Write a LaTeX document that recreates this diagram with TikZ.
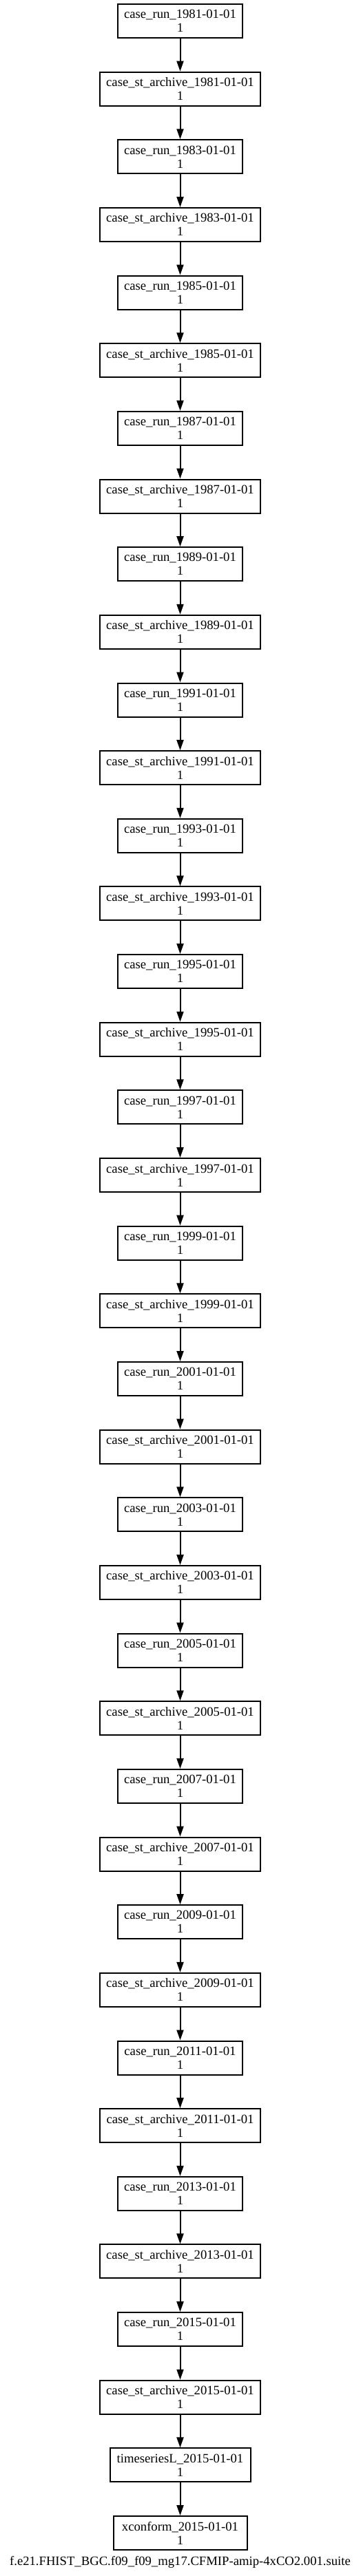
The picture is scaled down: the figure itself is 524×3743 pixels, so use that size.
\documentclass[tikz,border=0pt]{standalone}
\usepackage{fontspec}
\setmainfont{Liberation Serif}
\usetikzlibrary{arrows.meta}
\begin{document}
\begin{tikzpicture}[x=1pt,y=1pt,
  box/.style={draw,line width=2pt,rectangle,minimum height=49pt,inner sep=0pt,align=center,font=\fontsize{18.67}{20}\selectfont},
  runbox/.style={box,minimum width=181pt},
  archbox/.style={box,minimum width=233pt},
  tsbox/.style={box,minimum width=204pt},
  xcbox/.style={box,minimum width=194pt},
  edge/.style={line width=2pt,-{Triangle[length=15pt,width=10pt]}},
  caption/.style={font=\fontsize{18.67}{20}\selectfont,inner sep=0pt,anchor=base}]
\useasboundingbox (0,0) rectangle (524,-3743);
\foreach \yr [count=\i from 0] in {1981,1983,...,2015}{
  \node[runbox] (r\yr) at (261.5,{-(30.5+98.65*2*\i)}) {case\_run\_\yr-01-01\\1};
  \node[archbox] (a\yr) at (261.5,{-(30.5+98.65*(2*\i+1))}) {case\_st\_archive\_\yr-01-01\\1};
}
\node[tsbox] (ts) at (261.5,{-(30.5+98.65*36)}) {timeseriesL\_2015-01-01\\1};
\node[xcbox] (xc) at (261.5,{-(30.5+98.65*37)}) {xconform\_2015-01-01\\1};
\node[caption] (cap) at (261.5,-3727.5) {f.e21.FHIST\_BGC.f09\_f09\_mg17.CFMIP-amip-4xCO2.001.suite};
\foreach \yr in {1981,1983,...,2015}{
  \draw[edge] (r\yr) -- (a\yr);
}
\foreach \yr in {1981,1983,...,2013}{
  \pgfmathtruncatemacro\nx{\yr+2}
  \draw[edge] (a\yr) -- (r\nx);
}
\draw[edge] (a2015) -- (ts);
\draw[edge] (ts) -- (xc);
\end{tikzpicture}
\end{document}
